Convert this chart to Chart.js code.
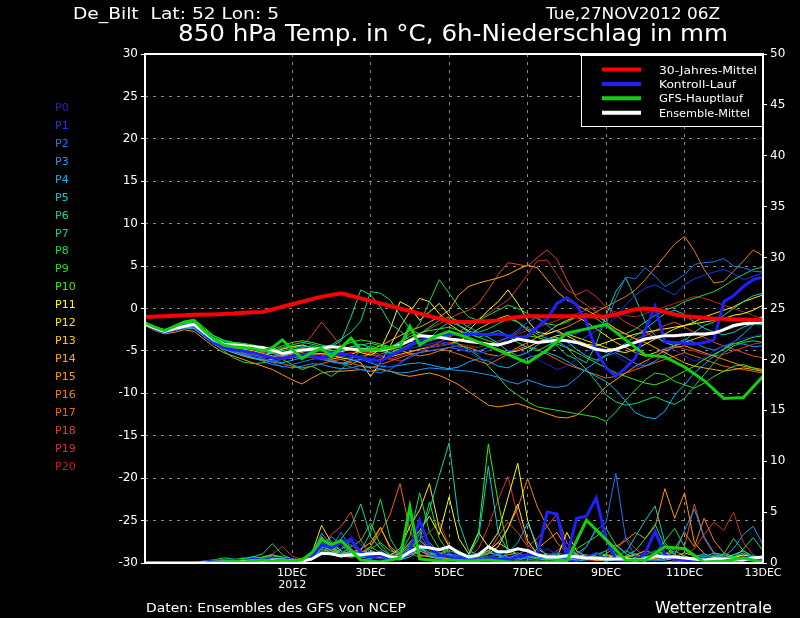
<!DOCTYPE html>
<html>
<head>
<meta charset="utf-8">
<script src="https://cdn.jsdelivr.net/npm/chart.js@4.4.0/dist/chart.umd.min.js"></script>
<style>
  html, body { margin: 0; padding: 0; background: #000; overflow: hidden; }
  canvas { display: block; }
</style>
</head>
<body>
<canvas id="ens" width="800" height="618"></canvas>
<script>
// time axis: 6h steps from Tue 27NOV2012 06Z (step 0) to 13DEC 00Z (step 63)
const stepCount = 64;
const dayTickSteps = [15, 23, 31, 39, 47, 55, 63];
const dayTickLabels = [['1DEC', '2012'], '3DEC', '5DEC', '7DEC', '9DEC', '11DEC', '13DEC'];

const memberNames = ['P0','P1','P2','P3','P4','P5','P6','P7','P8','P9','P10','P11','P12','P13','P14','P15','P16','P17','P18','P19','P20'];
const memberColors = ['#2222cc','#0a3cff','#1478ff','#1e96ff','#00b4ff','#00d2d2','#00dca0','#00dc78','#14dc50','#28dc28','#32f000',
                      '#ffff00','#ffe600','#ffc800','#ffaa00','#ff9600','#f08200','#f06400','#e04628','#d23232','#c81e1e'];

// 850 hPa temperature (°C)
const tempClim = [-1.0,-0.95,-0.9,-0.85,-0.8,-0.75,-0.7,-0.7,-0.65,-0.6,-0.5,-0.45,-0.4,-0.1,0.2,0.5,
  0.8,1.1,1.4,1.6,1.8,1.5,1.2,0.9,0.6,0.3,0.0,-0.3,-0.6,-0.9,-1.2,-1.5,
  -1.6,-1.6,-1.5,-1.5,-1.4,-1.2,-1.0,-0.9,-0.9,-0.9,-0.9,-0.9,-0.9,-0.9,-0.95,-0.95,
  -0.7,-0.4,-0.1,0.0,-0.1,-0.4,-0.7,-0.9,-1.0,-1.1,-1.2,-1.2,-1.3,-1.3,-1.35,-1.35];
const tempMean = [-1.8,-2.3,-2.7,-2.4,-2.1,-1.9,-2.8,-3.7,-4.2,-4.3,-4.4,-4.5,-4.6,-4.9,-5.3,-5.1,
  -4.9,-4.8,-4.7,-4.5,-4.6,-4.8,-4.8,-4.9,-4.9,-4.7,-4.3,-3.8,-3.2,-3.3,-3.4,-3.6,
  -3.7,-3.9,-4.0,-4.2,-4.3,-4.0,-3.6,-3.8,-4.0,-3.9,-3.7,-3.8,-4.0,-4.4,-4.8,-5.0,
  -4.8,-4.4,-4.0,-3.6,-3.4,-3.2,-3.2,-3.1,-3.0,-3.0,-2.9,-2.5,-2.0,-1.8,-1.7,-1.6];
const tempControl = [-1.8,-2.4,-2.8,-2.5,-2.0,-2.0,-3.0,-4.0,-4.6,-4.9,-5.0,-5.2,-5.5,-5.8,-5.9,-5.6,
  -5.4,-5.6,-5.8,-5.5,-5.3,-5.5,-5.8,-6.0,-6.2,-5.6,-5.0,-4.4,-3.8,-3.5,-3.3,-3.0,
  -3.1,-3.0,-3.0,-3.1,-3.0,-3.2,-3.4,-3.3,-2.2,-1.2,0.6,1.3,0.4,-1.6,-5.0,-7.0,
  -8.0,-7.0,-5.8,-2.5,0.2,-3.9,-4.0,-4.1,-4.2,-4.0,-3.7,0.8,1.5,2.6,3.4,3.7];
// operational run: 12-hourly after step 31
const tempGfs = [-1.7,-2.2,-2.6,-2.1,-1.6,-1.4,-2.6,-3.6,-4.3,-4.5,-4.6,-4.7,-5.0,-4.6,-3.7,-4.8,
  -5.9,-5.2,-4.7,-5.7,-4.6,-3.5,-4.9,-4.9,-4.8,-4.6,-4.5,-2.1,-4.3,-3.6,-3.1,-2.7,
  null,-3.5,null,-4.4,null,-5.4,null,-6.4,null,-4.9,null,-2.9,null,-2.4,null,-1.9,
  null,-3.7,null,-5.5,null,-5.7,null,-6.9,null,-8.5,null,-10.6,null,-10.5,null,-8.0];

const tempP0 = [-1.8,-2.3,-2.7,-2.4,-2.0,-2.0,-3.0,-3.9,-4.5,-4.8,-5.0,-5.3,-5.6,-5.9,-6.0,-5.8,
  -5.5,-5.8,-6.1,-5.7,-5.4,-5.6,-5.9,-6.3,-6.6,-6.9,-6.5,-5.8,-5.0,-4.6,-4.4,-4.2,
  -4.6,-5.2,-5.8,-6.1,-5.6,-5.0,-4.8,-5.3,-6.0,-6.6,-7.2,-6.8,-6.0,-5.1,-4.5,-4.8,
  -5.5,-6.3,-7.0,-6.5,-5.4,-4.6,-4.9,-5.6,-6.2,-5.8,-5.0,-4.4,-3.9,-3.5,-3.3,-3.0];
const tempP1 = [-1.7,-2.4,-2.8,-2.3,-1.9,-1.9,-2.9,-3.8,-4.4,-4.7,-5.1,-5.5,-5.9,-6.2,-6.0,-5.7,
  -5.4,-5.1,-5.0,-5.2,-5.6,-5.9,-6.2,-6.0,-5.6,-5.3,-5.0,-4.7,-4.5,-4.2,-3.9,-4.1,
  -4.5,-4.9,-5.3,-5.0,-4.4,-3.6,-2.8,-2.2,-2.6,-3.4,-4.1,-4.5,-4.0,-3.3,-2.6,-2.1,
  -1.0,0.4,1.6,2.4,2.8,2.2,1.6,2.8,3.5,3.9,4.3,4.6,4.1,3.4,3.8,4.2];
const tempP2 = [-1.9,-2.5,-2.8,-2.5,-2.1,-2.2,-3.2,-4.1,-4.7,-5.1,-5.4,-5.6,-5.8,-6.4,-6.9,-6.6,
  -6.3,-6.0,-5.8,-6.1,-6.5,-6.9,-7.2,-7.4,-7.6,-7.2,-6.4,-5.6,-5.2,-5.0,-4.8,-4.6,
  -4.8,-5.1,-5.0,-4.6,-4.0,-3.4,-2.6,-1.6,-1.0,-2.0,-2.8,-3.2,-2.9,-2.4,-2.0,-1.8,
  1.2,3.7,3.5,4.8,3.8,2.6,3.2,4.0,5.2,5.4,5.5,5.9,5.0,4.8,4.4,4.3];
const tempP3 = [-1.8,-2.4,-2.9,-2.6,-2.2,-2.2,-3.1,-4.0,-4.6,-5.0,-5.4,-5.8,-6.2,-6.6,-6.8,-7.0,
  -6.8,-6.5,-6.6,-6.9,-7.1,-7.0,-6.7,-6.9,-7.1,-7.4,-7.6,-7.5,-7.2,-7.0,-7.1,-7.2,
  -7.3,-7.4,-7.6,-7.8,-8.1,-8.6,-8.9,-8.4,-8.8,-9.2,-9.3,-9.1,-8.2,-7.1,-6.3,-5.6,
  -5.2,-5.8,-6.5,-6.8,-6.2,-5.4,-4.3,-3.6,-4.0,-4.6,-4.9,-4.4,-4.1,-4.2,-4.5,-4.4];
const tempP4 = [-1.8,-2.5,-2.9,-2.6,-2.3,-2.4,-3.3,-4.2,-4.8,-5.2,-5.5,-5.8,-6.0,-6.2,-6.4,-6.1,
  -5.8,-5.6,-5.9,-6.3,-6.5,-6.2,-6.0,-6.4,-6.8,-6.9,-6.7,-6.5,-6.4,-6.6,-6.9,-7.1,
  -6.9,-6.3,-5.9,-6.2,-6.8,-7.0,-6.4,-5.8,-5.5,-5.2,-5.6,-6.2,-6.9,-7.4,-8.0,-8.6,
  -9.6,-10.9,-12.3,-12.8,-13.0,-12.1,-10.2,-9.0,-7.6,-6.6,-5.6,-4.7,-4.0,-3.0,-1.9,-0.8];
const tempP5 = [-1.7,-2.3,-2.6,-2.2,-1.8,-1.9,-2.8,-3.6,-4.1,-4.3,-4.6,-4.8,-5.0,-5.3,-5.6,-5.2,
  -4.9,-4.7,-4.8,-5.2,-5.0,-4.6,-4.2,-4.6,-5.0,-5.3,-5.0,-4.4,-4.0,-3.8,-3.5,-3.2,
  -3.0,-2.7,-2.9,-3.4,-4.1,-5.0,-5.6,-5.2,-4.3,-3.6,-3.4,-3.9,-4.8,-5.6,-6.1,-5.5,
  -4.8,-4.1,-3.2,-2.4,-1.5,-0.6,-0.2,-0.7,-1.6,-2.3,-2.8,-3.1,-2.8,-2.2,-1.8,-1.9];
const tempP6 = [-1.8,-2.3,-2.7,-2.2,-1.7,-1.8,-2.7,-3.5,-4.0,-4.3,-4.5,-4.7,-4.9,-5.1,-5.0,-4.7,
  -4.4,-4.6,-4.9,-4.5,-3.8,-1.0,2.2,1.6,0.2,-1.8,-2.6,-3.8,-4.2,-3.6,-2.4,-1.6,
  -2.0,-2.8,-3.4,-3.0,-2.6,-3.2,-4.0,-4.6,-5.0,-4.4,-3.8,-4.6,-5.8,-6.4,-4.2,-0.8,
  2.0,3.6,1.2,-1.6,-3.2,-4.0,-4.4,-3.8,-2.8,-2.0,-1.6,-0.8,0.0,0.8,1.5,1.8];
const tempP7 = [-1.6,-2.2,-2.5,-2.1,-1.7,-1.6,-2.5,-3.4,-3.9,-4.1,-4.3,-4.4,-4.7,-5.0,-4.6,-4.3,
  -4.0,-4.2,-4.5,-4.3,-3.6,-2.8,-1.5,2.0,1.8,1.0,-0.8,-2.4,-3.0,-2.2,-1.4,-1.0,
  -1.5,-2.2,-2.8,-2.4,-1.8,-1.2,-1.6,-2.4,-3.0,-3.6,-4.4,-5.5,-6.0,-7.2,-8.6,-10.2,
  -11.0,-11.4,-11.2,-10.8,-10.4,-10.9,-11.3,-10.6,-9.2,-7.8,-6.4,-5.2,-4.4,-4.0,-3.8,-4.0];
const tempP8 = [-1.7,-2.2,-2.6,-2.1,-1.6,-1.5,-2.4,-3.2,-3.7,-4.0,-4.2,-4.5,-4.9,-5.3,-5.2,-4.9,
  -4.6,-4.4,-4.7,-5.0,-4.8,-4.5,-4.3,-4.1,-4.4,-4.6,-3.9,-3.0,-1.8,0.8,3.4,1.8,
  0.2,-1.0,-1.4,-0.8,-0.2,0.4,0.0,-0.6,-1.2,-1.8,-2.0,-1.6,-1.0,-0.6,-1.2,-2.0,
  -2.8,-3.0,-2.4,-1.6,-0.8,-0.2,0.2,0.8,1.2,1.6,2.0,2.6,3.4,4.0,4.6,4.9];
const tempP9 = [-1.7,-2.3,-2.7,-2.3,-1.9,-1.9,-3.0,-4.0,-5.0,-5.8,-6.3,-6.5,-6.4,-6.2,-6.0,-6.6,
  -7.2,-6.8,-7.4,-8.0,-7.2,-6.0,-5.0,-4.4,-4.8,-5.2,-4.8,-4.2,-3.8,-3.4,-3.2,-3.6,
  -4.2,-4.8,-5.6,-6.8,-8.0,-9.4,-10.2,-11.0,-11.6,-11.8,-12.0,-12.2,-12.4,-12.6,-12.8,-13.3,
  -12.2,-10.8,-9.6,-8.4,-7.6,-7.8,-8.6,-9.0,-9.4,-8.8,-8.0,-7.4,-6.8,-6.6,-7.0,-7.4];
const tempP10 = [-1.6,-2.2,-2.5,-2.0,-1.5,-1.3,-2.2,-3.2,-3.8,-4.0,-4.1,-4.3,-4.6,-4.8,-4.4,-4.0,
  -3.8,-4.0,-4.3,-4.6,-4.4,-4.0,-3.7,-3.9,-4.2,-4.5,-4.0,-3.3,-2.9,-2.6,-2.4,-2.2,
  -2.6,-3.0,-3.4,-3.8,-4.2,-4.0,-3.6,-3.2,-3.4,-3.8,-4.2,-4.6,-5.2,-5.8,-6.4,-7.0,
  -7.6,-8.0,-8.4,-8.8,-9.0,-8.6,-8.0,-7.4,-6.8,-6.0,-5.4,-4.8,-4.2,-3.8,-3.4,-3.2];
const tempP11 = [-1.8,-2.4,-2.8,-2.4,-2.0,-2.0,-3.1,-4.0,-4.6,-4.9,-5.1,-5.3,-5.5,-5.2,-4.8,-4.5,
  -4.3,-4.6,-5.0,-5.3,-5.1,-4.8,-5.2,-5.5,-4.8,-2.4,0.8,0.2,-1.4,-0.4,0.6,-0.8,
  -2.0,-2.6,-1.4,-0.2,0.8,2.2,0.6,-1.4,-2.8,-3.0,-2.6,-3.2,-3.8,-4.2,-4.4,-4.0,
  -3.6,-3.4,-3.0,-2.8,-2.6,-2.4,-2.2,-2.0,-1.8,-1.6,-1.4,-1.2,-0.8,-0.6,-0.2,0.4];
const tempP12 = [-1.7,-2.3,-2.7,-2.3,-1.9,-1.8,-2.8,-3.7,-4.2,-4.5,-4.8,-5.0,-5.3,-5.6,-5.9,-5.8,
  -5.6,-5.4,-5.3,-5.5,-5.8,-6.0,-6.4,-8.0,-6.4,-4.4,-2.2,-0.4,1.2,0.8,-0.6,-1.8,
  -2.6,-3.4,-4.0,-4.4,-4.8,-5.2,-5.0,-4.6,-4.0,-3.6,-3.2,-3.0,-3.4,-3.8,-4.2,-4.6,
  -5.0,-5.2,-4.8,-4.2,-3.6,-3.0,-2.4,-2.0,-1.6,-1.0,-0.6,-0.2,0.2,0.8,1.2,1.6];
const tempP13 = [-1.8,-2.4,-2.8,-2.4,-2.0,-1.9,-2.9,-3.8,-4.4,-4.7,-5.0,-5.2,-5.4,-5.7,-5.5,-5.2,
  -5.0,-4.8,-4.7,-4.9,-5.2,-5.5,-5.8,-6.2,-6.0,-5.7,-5.4,-5.1,-4.8,-4.6,-4.4,-4.2,
  -3.8,-3.2,-2.4,-1.8,-1.2,-0.8,-1.6,-2.6,-3.4,-2.8,-2.0,-1.4,-1.0,-1.6,-2.4,-3.2,
  -4.0,-4.6,-5.2,-5.6,-5.2,-4.8,-4.4,-4.0,-3.6,-3.2,-3.0,-2.6,-2.2,-1.8,-1.4,-1.0];
const tempP14 = [-1.9,-2.5,-2.9,-2.6,-2.2,-2.3,-3.3,-4.2,-4.8,-5.2,-5.6,-5.9,-6.1,-6.0,-5.7,-5.4,
  -5.2,-5.5,-5.8,-6.0,-5.7,-5.4,-5.0,-4.8,-4.4,-3.8,-3.2,-2.6,-2.2,-1.6,-1.0,-0.2,
  1.6,2.6,3.0,3.3,3.6,4.0,4.6,5.1,4.8,3.4,2.0,1.0,0.4,-0.2,-0.8,-1.6,
  -2.4,-3.0,-3.6,-4.0,-4.6,-5.2,-5.8,-6.4,-6.8,-7.0,-7.2,-7.4,-7.2,-7.0,-7.2,-7.4];
const tempP15 = [-2.0,-2.6,-3.0,-2.8,-2.5,-2.7,-3.6,-4.5,-5.2,-5.6,-6.0,-6.4,-6.8,-7.2,-7.8,-8.4,
  -8.9,-8.2,-7.6,-7.4,-7.4,-7.3,-7.2,-7.4,-7.2,-7.4,-7.8,-8.0,-7.8,-7.6,-7.9,-8.4,
  -9.0,-9.8,-10.6,-11.4,-11.6,-11.4,-11.2,-11.6,-12.0,-12.4,-12.8,-12.9,-12.6,-11.6,-10.4,-9.2,
  -8.4,-7.6,-6.8,-6.2,-5.6,-5.0,-4.6,-4.4,-4.8,-5.2,-5.6,-6.0,-6.4,-6.8,-7.0,-7.2];
const tempP16 = [-1.8,-2.4,-2.8,-2.5,-2.2,-2.2,-3.1,-4.0,-4.6,-4.9,-5.2,-5.4,-5.6,-5.8,-6.0,-5.8,
  -5.6,-5.8,-6.0,-6.2,-6.4,-6.6,-6.0,-5.2,-4.8,-4.6,-4.9,-5.3,-5.6,-5.4,-5.0,-4.6,
  -4.4,-4.6,-5.0,-5.4,-5.6,-5.2,-4.6,-4.0,-3.4,-3.0,-2.6,-2.2,-1.6,-1.0,-0.4,0.2,
  0.8,1.4,2.2,3.4,4.8,6.2,7.6,8.5,6.8,4.6,3.0,3.2,4.4,5.6,6.9,6.2];
const tempP17 = [-1.9,-2.5,-2.9,-2.5,-2.1,-2.1,-3.1,-4.0,-4.6,-5.0,-5.4,-5.8,-6.0,-6.3,-6.5,-6.8,
  -7.0,-6.8,-6.5,-6.2,-6.0,-6.4,-6.8,-7.0,-6.6,-6.2,-5.8,-5.4,-5.2,-5.0,-4.8,-5.0,
  -5.4,-5.8,-6.2,-6.6,-6.0,-5.4,-4.8,-4.4,-4.8,-5.4,-6.0,-6.6,-7.0,-7.4,-7.8,-8.2,
  -8.0,-7.6,-7.2,-6.8,-6.4,-6.0,-5.6,-5.2,-5.6,-6.0,-6.4,-6.8,-7.0,-7.2,-7.4,-7.6];
const tempP18 = [-1.8,-2.4,-2.8,-2.4,-2.0,-2.1,-3.0,-3.9,-4.4,-4.6,-4.8,-5.0,-5.2,-5.0,-4.7,-4.5,
  -4.4,-3.2,-1.6,-3.0,-4.4,-4.8,-5.0,-5.2,-5.4,-5.0,-4.4,-3.6,-3.0,-2.4,-1.8,-1.2,
  -0.6,-0.2,0.6,2.2,4.0,5.4,5.2,5.0,6.0,6.9,5.8,3.4,1.2,0.4,-0.4,-1.6,
  -2.4,-3.0,-3.6,-3.2,-2.6,-2.0,-1.6,-2.2,-2.8,-3.4,-4.0,-4.4,-4.8,-5.2,-5.6,-5.8];
const tempP19 = [-1.9,-2.5,-2.9,-2.6,-2.3,-2.3,-3.2,-4.1,-4.7,-5.1,-5.3,-5.5,-5.7,-5.9,-5.6,-5.3,
  -5.0,-5.2,-5.5,-5.8,-6.0,-5.8,-5.6,-5.4,-5.6,-5.9,-6.2,-5.8,-5.2,-4.6,-4.0,-3.4,
  -2.8,-2.0,-1.2,-0.6,0.2,1.0,2.4,4.0,5.6,5.7,4.0,2.2,1.6,2.2,1.4,0.2,
  -0.8,-1.6,-2.2,-2.8,-3.4,-4.0,-4.4,-4.8,-5.0,-5.4,-5.6,-5.4,-5.0,-4.6,-4.2,-4.0];
const tempP20 = [-1.8,-2.4,-2.7,-2.3,-1.9,-2.0,-2.9,-3.8,-4.3,-4.6,-4.9,-5.1,-5.4,-5.6,-5.4,-5.1,
  -4.9,-5.1,-5.4,-5.6,-5.4,-5.2,-5.0,-5.4,-5.8,-6.0,-5.6,-5.2,-4.8,-4.4,-4.2,-4.0,
  -4.2,-4.4,-4.6,-4.2,-3.8,-3.4,-3.0,-2.6,-2.2,-1.8,-1.4,-1.0,-0.6,-0.2,0.2,0.0,
  -0.4,-0.8,-1.0,-0.6,-0.2,0.2,0.6,1.0,1.4,1.2,0.8,0.4,0.0,-0.4,-0.8,-1.2];

// 6h precipitation (mm)
const precMean = [0,0,0,0,0,0,0.05,0.05,0.1,0.1,0.15,0.2,0.2,0.3,0.3,0.2,
  0.2,0.4,0.95,0.9,0.7,0.8,0.8,0.9,0.95,0.6,0.5,1.1,1.6,1.5,1.3,1.6,
  1.0,0.6,0.8,1.6,1.1,1.1,1.4,1.2,0.8,0.6,0.6,0.7,0.6,0.5,0.5,0.4,
  0.4,0.4,0.3,0.4,0.7,0.6,0.6,0.5,0.4,0.3,0.4,0.4,0.3,0.3,0.5,0.6];
const precControl = [0,0,0,0,0,0,0.1,0.2,0.2,0.3,0.2,0.4,0.3,0.5,0.4,0.3,
  0.2,0.6,1.8,1.5,2.0,2.3,1.0,0.6,0.8,0.5,0.6,1.2,4.2,1.6,0.8,0.6,
  0.4,0.2,0.3,0.5,0.4,0.3,0.6,0.8,0.8,5.0,4.8,0.6,4.4,4.6,6.4,2.4,
  0.3,0.2,0.2,1.0,3.1,0.8,0.4,0.3,0.2,0.4,0.3,0.2,0.3,0.5,0.3,0.2];
const precGfs = [0,0,0,0,0,0,0,0.1,0.1,0.2,0.1,0.2,0.3,0.2,0.3,0.2,
  0.3,1.0,2.3,1.8,2.2,1.2,0.3,0.2,0.1,0.3,0.5,5.5,0.4,0.3,0.2,0.3,
  null,0.2,null,0.3,null,0.1,null,0.1,null,0.1,null,0.2,null,4.2,null,2.3,
  null,0.3,null,0.3,null,1.6,null,1.4,null,0.1,null,0.2,null,0.5,null,0.1];

const precP0 = [0,0.1,0.1,0,0,0,0,0,0,0,0.1,0.2,0.1,0.2,0.3,0.2,
  0.1,0.4,1.2,0.8,1.0,1.8,1.2,0.6,0.4,0.3,0.8,1.6,2.4,1.4,0.8,1.0,
  0.6,0.3,0.5,0.8,0.4,0.6,0.9,0.5,0.3,0.8,1.2,0.6,0.4,0.7,1.0,0.5,
  0.4,0.3,0.2,0.4,0.8,0.5,0.3,0.2,0.4,0.6,0.3,0.2,0.1,0.3,0.4,0.2];
const precP1 = [0,0,0,0,0,0,0,0.1,0.2,0.1,0,0.1,0.2,0.3,0.2,0.1,
  0.2,0.6,1.6,2.2,1.4,2.6,1.8,1.0,0.6,0.4,1.2,4.5,2.0,0.8,0.6,1.2,
  0.8,0.4,0.2,0.6,1.0,0.4,0.3,0.8,0.6,1.4,0.8,0.3,0.2,0.6,0.9,0.4,
  0.3,0.2,0.4,0.8,1.2,0.6,0.3,0.2,0.5,0.8,0.4,0.2,0.3,0.5,0.8,0.4];
const precP2 = [0,0,0,0,0,0,0,0,0.1,0.2,0.1,0.3,0.2,0.1,0.2,0.3,
  0.2,0.5,2.2,1.6,3.0,1.4,0.8,0.6,0.5,0.4,0.6,1.8,3.0,1.2,0.6,0.8,
  0.6,0.4,0.3,0.5,0.8,1.2,0.6,0.4,0.3,0.6,1.0,0.8,0.4,1.6,3.2,4.0,
  8.8,2.4,0.6,0.3,0.2,0.4,0.6,0.3,0.2,0.4,0.8,0.5,0.3,0.2,0.4,0.6];
const precP3 = [0,0,0,0,0,0,0.1,0.2,0.2,0.1,0.3,0.2,0.1,0.4,0.3,0.2,
  0.3,0.4,1.4,2.6,1.8,0.8,0.6,0.8,1.2,0.6,0.4,0.8,1.4,0.8,0.4,0.6,
  1.0,0.5,0.3,0.6,0.9,0.5,0.8,1.4,0.9,0.5,0.3,0.6,1.1,0.7,0.4,0.3,
  0.5,1.2,0.8,0.4,0.6,0.3,0.8,3.2,5.3,2.6,1.0,0.6,1.4,2.8,3.6,1.8];
const precP4 = [0,0,0,0,0,0,0,0,0.1,0.2,0.2,0.1,0.3,0.2,0.4,0.3,
  0.2,0.8,2.9,1.8,0.8,1.2,0.6,0.4,0.8,0.5,0.3,1.0,1.6,0.7,0.5,0.9,
  0.6,0.3,0.8,0.5,0.4,1.0,2.0,3.9,1.8,0.6,0.3,0.4,0.2,0.3,0.5,0.2,
  0.3,0.2,0.4,0.5,0.3,0.2,0.1,0.2,0.3,0.4,0.2,0.1,0.2,0.3,0.2,0.1];
const precP5 = [0,0,0,0,0,0,0,0,0,0.1,0.2,0.1,0.2,0.3,0.2,0.2,
  0.1,0.3,1.6,1.2,0.8,1.0,0.6,1.2,0.9,0.4,0.3,0.6,1.2,2.0,1.0,0.6,
  0.4,0.8,2.4,9.5,3.0,1.2,0.6,0.4,0.3,0.6,0.8,0.4,0.3,0.5,0.8,1.2,
  1.8,1.0,2.6,4.2,5.6,2.0,0.8,0.4,0.6,0.9,0.5,0.3,0.8,1.2,0.6,0.4];
const precP6 = [0,0,0,0,0,0,0,0,0.1,0.1,0.2,0.3,0.2,0.4,0.5,0.3,
  0.2,0.6,1.8,1.4,2.4,3.6,5.8,2.6,1.4,0.8,0.6,1.6,2.8,5.2,8.6,11.8,
  4.0,1.2,0.8,1.6,0.9,0.5,0.4,0.7,0.6,0.4,0.3,0.5,0.9,1.6,3.4,2.2,
  0.8,0.5,0.4,0.6,0.8,1.0,0.6,0.4,0.5,0.7,0.4,0.3,0.6,1.0,0.5,0.3];
const precP7 = [0,0,0,0,0,0,0.1,0.2,0.3,0.2,0.4,0.6,0.9,1.9,0.8,0.4,
  0.2,0.5,1.2,0.8,1.4,2.2,1.2,3.0,6.3,2.4,0.8,1.2,1.8,1.0,0.6,0.5,
  0.8,0.4,0.6,1.2,0.7,0.4,0.3,0.5,0.6,0.8,0.4,0.3,0.2,0.5,0.9,0.6,
  0.4,0.7,1.2,2.4,3.8,1.6,0.8,0.5,0.3,0.6,1.0,0.8,0.5,1.4,2.5,1.2];
const precP8 = [0,0,0,0,0,0,0.1,0.3,0.5,0.4,0.3,0.6,0.5,0.8,0.6,0.4,
  0.3,0.4,1.0,1.8,1.2,0.6,0.8,1.4,2.0,1.2,0.9,2.6,6.9,3.0,1.4,0.9,
  0.6,0.4,1.0,1.6,0.8,0.5,0.6,0.9,0.4,0.3,0.5,0.7,0.4,0.6,1.0,0.8,
  0.6,0.4,0.3,0.6,0.9,2.2,3.4,1.6,0.8,0.5,0.6,0.9,2.4,1.2,0.6,0.4];
const precP9 = [0,0,0,0,0,0,0.2,0.3,0.2,0.3,0.5,0.4,0.6,0.8,0.5,0.3,
  0.4,0.6,2.0,1.4,1.0,1.6,2.2,3.9,1.8,0.8,0.5,1.4,2.2,6.0,2.4,1.0,
  0.5,0.3,0.6,1.0,0.8,0.6,0.4,0.7,1.0,0.6,0.5,0.8,1.4,2.0,2.6,3.4,
  1.8,0.9,0.5,0.4,0.6,0.8,1.2,0.7,0.4,0.3,0.5,0.8,0.6,0.4,0.3,0.2];
const precP10 = [0,0,0,0,0,0,0.1,0.2,0.3,0.2,0.4,0.6,0.4,0.7,0.5,0.3,
  0.2,0.4,1.4,1.0,0.8,1.2,0.7,1.6,1.0,0.6,0.8,1.8,1.4,1.0,0.9,1.4,
  1.2,0.6,3.0,11.7,6.0,1.4,0.8,0.6,0.4,0.6,0.9,0.5,0.3,0.4,0.6,0.5,
  0.4,0.3,0.5,0.8,1.2,0.9,0.6,0.4,0.3,0.5,0.7,0.4,0.2,0.3,0.5,0.4];
const precP11 = [0,0,0,0,0,0,0,0.1,0.2,0.1,0.2,0.3,0.2,0.4,0.3,0.2,
  0.1,0.6,2.4,1.6,1.0,0.8,0.6,1.2,0.8,0.5,1.0,2.0,3.2,4.6,2.8,6.5,
  2.4,0.9,3.0,1.6,3.0,6.4,9.8,4.2,1.4,0.8,0.5,3.0,1.2,0.6,0.4,0.8,
  0.6,0.4,0.3,0.5,0.7,0.4,0.3,0.2,0.4,0.6,0.3,0.2,0.5,0.8,0.6,0.3];
const precP12 = [0,0,0,0,0,0,0,0,0.1,0.2,0.1,0.2,0.3,0.2,0.4,0.3,
  0.2,0.9,3.7,2.0,1.2,0.8,1.0,0.6,0.5,0.8,1.4,3.6,5.2,7.8,3.4,1.6,
  0.8,0.5,0.4,0.9,1.6,3.4,5.8,2.2,0.9,0.5,0.3,0.6,0.8,0.4,0.3,0.5,
  0.7,0.4,0.3,0.2,0.5,0.8,0.6,0.3,0.2,0.4,0.6,0.3,0.2,0.4,0.7,0.5];
const precP13 = [0,0,0,0,0,0,0,0,0.1,0.1,0.2,0.2,0.1,0.3,0.2,0.2,
  0.1,0.5,2.6,1.4,0.9,0.6,1.2,0.8,0.6,0.4,0.8,1.6,2.2,1.4,0.8,1.2,
  0.9,0.5,0.7,1.2,2.0,1.4,0.8,0.5,0.6,0.9,0.5,0.3,0.6,0.8,0.5,0.3,
  0.4,0.6,0.9,0.5,0.3,0.4,0.6,1.0,0.7,0.4,0.3,0.5,0.8,1.2,0.6,0.4];
const precP14 = [0,0,0,0,0,0,0,0.1,0.1,0.2,0.1,0.3,0.2,0.2,0.3,0.2,
  0.2,0.4,1.8,1.2,0.8,1.0,1.4,2.0,3.5,1.6,0.8,1.0,1.6,0.9,0.6,0.8,
  0.5,0.3,0.4,0.6,0.4,0.3,0.5,0.8,0.6,0.4,0.3,0.2,0.4,0.6,0.3,0.2,
  0.3,0.5,0.8,1.2,0.9,0.6,0.4,0.3,0.5,0.8,0.5,0.3,0.4,0.6,0.4,0.3];
const precP15 = [0,0,0,0,0,0,0.1,0.2,0.3,0.2,0.1,0.3,0.4,0.3,0.2,0.3,
  0.4,0.5,1.2,0.8,0.6,0.9,1.2,0.7,0.5,0.6,1.0,1.4,0.8,0.6,0.4,0.5,
  0.3,0.2,0.4,0.6,0.5,0.8,1.0,0.6,1.4,2.2,3.0,1.4,0.8,0.6,0.4,0.9,
  1.6,2.2,3.0,2.4,3.6,7.3,4.4,6.9,2.0,0.9,0.5,0.4,0.6,0.8,0.5,0.3];
const precP16 = [0,0,0,0,0,0,0,0.1,0.2,0.1,0.2,0.3,0.2,0.1,0.2,0.3,
  0.2,0.3,1.0,0.8,1.4,1.8,1.0,1.6,3.5,1.4,0.6,0.8,1.2,0.7,0.5,0.4,
  0.3,0.5,0.8,1.2,2.0,3.4,5.4,8.3,5.5,3.6,2.0,1.0,0.6,0.4,0.3,0.5,
  0.8,0.5,0.3,0.4,0.6,0.9,1.4,3.0,1.6,4.4,2.2,1.0,0.6,0.4,0.3,0.2];
const precP17 = [0,0,0,0,0,0,0.1,0.2,0.1,0.2,0.3,0.2,0.4,0.3,0.5,0.4,
  0.3,0.4,1.0,1.4,0.8,1.2,0.9,1.6,3.0,4.8,7.8,3.2,1.2,0.8,0.5,0.4,
  0.3,0.5,0.6,0.4,0.3,0.5,0.8,0.6,0.4,0.3,0.5,0.8,0.6,0.4,0.3,0.2,
  0.4,0.6,0.3,0.2,0.4,0.6,0.8,0.5,0.3,0.2,0.4,0.6,0.3,0.2,0.4,0.3];
const precP18 = [0,0,0,0,0,0,0.1,0.1,0.2,0.3,0.2,0.1,0.3,0.4,0.6,0.3,
  0.2,0.6,1.4,2.8,3.6,5.0,2.2,0.9,0.6,0.8,1.2,0.9,0.6,0.8,1.0,0.7,
  0.5,0.4,0.6,1.0,2.6,4.0,3.0,1.6,2.4,3.6,4.8,2.0,0.8,0.5,0.4,0.3,
  0.6,0.4,0.3,0.2,0.5,0.8,1.0,1.6,5.8,2.4,0.9,0.5,0.4,0.6,0.3,0.2];
const precP19 = [0,0,0,0,0,0,0.1,0.2,0.3,0.2,0.4,0.3,0.6,0.9,1.6,0.7,
  0.3,0.5,1.2,0.8,1.0,1.4,0.8,0.6,0.5,0.7,1.0,1.6,2.4,3.0,4.0,1.8,
  0.9,0.6,1.4,3.6,6.2,8.5,4.6,1.8,0.9,0.6,1.2,2.0,0.9,0.5,0.4,0.6,
  1.2,2.5,1.4,0.6,0.4,0.3,0.5,0.8,1.4,2.8,4.0,3.2,5.0,2.0,0.8,0.4];
const precP20 = [0,0,0,0,0,0,0,0.1,0.2,0.1,0.2,0.3,0.2,0.3,0.4,0.2,
  0.2,0.3,0.9,1.2,0.7,0.5,0.8,0.6,0.4,0.6,0.9,1.2,0.8,0.6,0.5,0.7,
  0.5,0.3,0.4,0.6,0.8,0.5,0.3,0.6,0.9,0.5,0.3,0.4,0.6,0.3,0.2,0.4,
  0.6,0.4,0.3,0.5,0.8,0.5,0.3,0.2,0.4,0.6,0.3,0.2,0.4,0.5,0.3,0.2];

const memberTemps = [tempP0, tempP1, tempP2, tempP3, tempP4, tempP5, tempP6, tempP7, tempP8, tempP9, tempP10,
                     tempP11, tempP12, tempP13, tempP14, tempP15, tempP16, tempP17, tempP18, tempP19, tempP20];
const memberPrecs = [precP0, precP1, precP2, precP3, precP4, precP5, precP6, precP7, precP8, precP9, precP10,
                     precP11, precP12, precP13, precP14, precP15, precP16, precP17, precP18, precP19, precP20];

const legendLabels = ['30-Jahres-Mittel', 'Kontroll-Lauf', 'GFS-Hauptlauf', 'Ensemble-Mittel'];
const legendColors = ['#ff0000', '#2020ff', '#10d010', '#ffffff'];
const legendTextWidths = [98, 77, 84, 91];

const FONT = "'DejaVu Sans', sans-serif";
const GRID = '#8c8c8c';

const toPoints = (arr) => arr.map((v, i) => ({ x: i, y: v }));

function line(label, arr, color, width, axis, order) {
  return {
    label: label,
    data: toPoints(arr),
    borderColor: color,
    backgroundColor: color,
    borderWidth: width,
    pointRadius: 0,
    tension: 0,
    spanGaps: true,
    yAxisID: axis,
    order: order
  };
}

const datasets = [];
memberTemps.forEach((arr, k) => datasets.push(line(memberNames[k], arr, memberColors[k], 1, 'y', 10)));
memberPrecs.forEach((arr, k) => datasets.push(line(memberNames[k] + ' RR', arr, memberColors[k], 1, 'y2', 10)));
datasets.push(line('Kontroll-Lauf', tempControl, '#2020ff', 3, 'y', 3));
datasets.push(line('Kontroll-Lauf RR', precControl, '#2020ff', 3, 'y2', 3));
datasets.push(line('Ensemble-Mittel', tempMean, '#ffffff', 3, 'y', 2));
datasets.push(line('Ensemble-Mittel RR', precMean, '#ffffff', 3, 'y2', 2));
datasets.push(line('GFS-Hauptlauf', tempGfs, '#10d010', 3, 'y', 1));
datasets.push(line('GFS-Hauptlauf RR', precGfs, '#10d010', 3, 'y2', 1));
datasets.push(line('30-Jahres-Mittel', tempClim, '#ff0000', 4, 'y', 0));

// text squeezed/stretched to a measured width
function fitText(ctx, text, x, y, width, font, color, baseline) {
  ctx.font = font;
  const w = ctx.measureText(text).width;
  ctx.save();
  ctx.translate(x, y);
  ctx.scale(width / w, 1);
  ctx.fillStyle = color;
  ctx.textAlign = 'left';
  ctx.textBaseline = baseline || 'alphabetic';
  ctx.fillText(text, 0, 0);
  ctx.restore();
}

const decorations = {
  id: 'decorations',
  afterDraw(chart) {
    const { ctx, chartArea: a } = chart;
    ctx.save();

    // frame
    ctx.strokeStyle = '#fff';
    ctx.lineWidth = 2;
    ctx.strokeRect(a.left, a.top, a.right - a.left, a.bottom - a.top);

    // legend box
    const bx = a.right - 182, by = a.top, bw = 182, bh = 73;
    ctx.fillStyle = '#000';
    ctx.fillRect(bx, by, bw, bh);
    ctx.strokeStyle = '#fff';
    ctx.lineWidth = 1;
    ctx.strokeRect(bx + 0.5, by + 0.5, bw - 1, bh - 1);
    ctx.lineWidth = 2;
    ctx.strokeRect(bx, by, bw, 1);
    legendLabels.forEach((label, k) => {
      const ly = by + 15.5 + k * 14.4;
      ctx.strokeStyle = legendColors[k];
      ctx.lineWidth = 4;
      ctx.beginPath();
      ctx.moveTo(bx + 21, ly);
      ctx.lineTo(bx + 60, ly);
      ctx.stroke();
      fitText(ctx, label, bx + 78, ly + 4, legendTextWidths[k], '11px ' + FONT, '#fff');
    });

    // member labels on the left
    ctx.font = '11px ' + FONT;
    ctx.textBaseline = 'middle';
    memberNames.forEach((name, k) => {
      ctx.fillStyle = memberColors[k];
      ctx.fillText(name, 55, 108 + k * 17.95);
    });

    // header and footer
    fitText(ctx, 'De_Bilt  Lat: 52 Lon: 5', 73, 18.5, 206, '15px ' + FONT, '#fff');
    fitText(ctx, 'Tue,27NOV2012 06Z', 546, 18.5, 174, '15px ' + FONT, '#fff');
    fitText(ctx, '850 hPa Temp. in °C, 6h-Niederschlag in mm', 178, 41, 550, '23px ' + FONT, '#fff');
    fitText(ctx, 'Daten: Ensembles des GFS von NCEP', 146, 612, 260, '12px ' + FONT, '#fff');
    fitText(ctx, 'Wetterzentrale', 655, 613, 117, '15px ' + FONT, '#fff');

    ctx.restore();
  }
};

new Chart(document.getElementById('ens'), {
  type: 'line',
  data: { datasets: datasets },
  options: {
    responsive: false,
    animation: false,
    events: [],
    layout: { padding: { top: 54, left: 0, right: 0, bottom: 0 } },
    plugins: { legend: { display: false }, tooltip: { enabled: false }, title: { display: false } },
    scales: {
      x: {
        type: 'linear',
        min: 0,
        max: stepCount - 1,
        afterBuildTicks: (s) => { s.ticks = dayTickSteps.map(v => ({ value: v })); },
        afterFit: (s) => { s.height = 55; },
        ticks: {
          autoSkip: false,
          maxRotation: 0,
          color: '#fff',
          padding: 4,
          font: { family: FONT, size: 11, lineHeight: 1.1 },
          callback: (v) => {
            const k = dayTickSteps.indexOf(v);
            return k >= 0 ? dayTickLabels[k] : '';
          }
        },
        grid: {
          drawTicks: false,
          color: (c) => (c.tick && c.tick.value === stepCount - 1) ? 'rgba(0,0,0,0)' : GRID
        },
        border: { display: false, dash: [3, 5] }
      },
      y: {
        position: 'left',
        min: -30,
        max: 30,
        afterFit: (s) => { s.width = 145; },
        ticks: { stepSize: 5, color: '#fff', padding: 3, font: { family: FONT, size: 12 } },
        grid: {
          color: (c) => (c.tick && Math.abs(c.tick.value) === 30) ? 'rgba(0,0,0,0)' : GRID,
          tickColor: '#fff',
          tickLength: 4,
          tickBorderDash: []
        },
        border: { display: false, dash: [3, 5] }
      },
      y2: {
        position: 'right',
        min: 0,
        max: 50,
        afterFit: (s) => { s.width = 37; },
        ticks: { stepSize: 5, color: '#fff', padding: 3, font: { family: FONT, size: 12 } },
        grid: { drawOnChartArea: false, tickColor: '#fff', tickLength: 4 },
        border: { display: false }
      }
    }
  },
  plugins: [decorations]
});
</script>
</body>
</html>
